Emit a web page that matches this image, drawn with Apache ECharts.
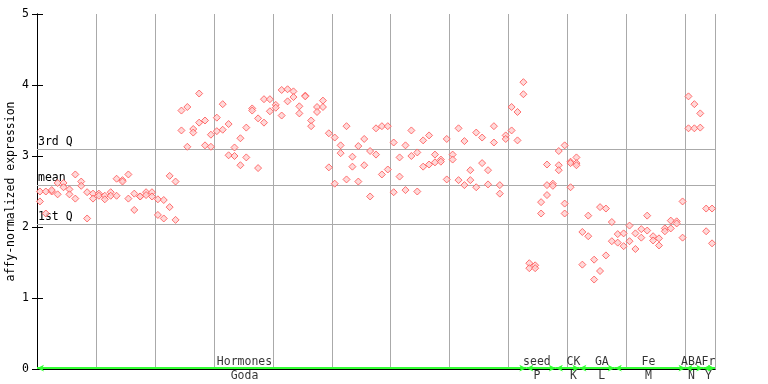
<!DOCTYPE html>
<html>
<head>
<meta charset="utf-8">
<script src="https://cdn.jsdelivr.net/npm/echarts@6/dist/echarts.min.js"></script>
<style>
html,body{margin:0;padding:0;background:#fff;}
#c{width:768px;height:384px;}
</style>
</head>
<body>
<div id="c"></div>
<script>
// expression values per sample (replicates)
const sampleValues = [
  [2.50,2.36],[2.50,2.19],[2.50,2.52],[2.62,2.46],[2.62,2.56],[2.53,2.46],[2.74,2.40],[2.64,2.58],[2.49,2.12],[2.47,2.40],
  [2.47,2.44],[2.44,2.39],[2.49,2.44],[2.68,2.44],[2.66,2.64],[2.74,2.40],[2.47,2.24],[2.43,2.43],[2.49,2.45],[2.49,2.43],
  [2.39,2.17],[2.38,2.12],[2.72,2.28],[2.64,2.10],[3.64,3.36],[3.69,3.13],[3.38,3.33],[3.88,3.47],[3.50,3.15],[3.30,3.13],
  [3.54,3.35],[3.73,3.37],[3.45,3.01],[3.12,3.00],[3.25,2.87],[3.40,2.98],[3.67,3.64],[3.53,2.83],[3.80,3.47],[3.80,3.63],
  [3.72,3.68],[3.93,3.57],[3.94,3.77],[3.91,3.83],[3.70,3.60],[3.85,3.84],[3.50,3.42],[3.69,3.62],[3.78,3.69],[3.32,2.84],
  [3.26,2.61],[3.15,3.04],[3.42,2.67],[2.99,2.85],[3.14,2.64],[3.24,2.87],[3.07,2.43],[3.39,3.02],[3.42,2.74],[3.42,2.81],
  [3.19,2.49],[2.98,2.71],[3.15,2.52],[3.36,3.00],[3.05,2.50],[3.22,2.85],[3.29,2.88],[3.02,2.91],[2.95,2.92],[3.24,2.67],
  [3.02,2.95],[3.39,2.66],[3.21,2.59],[2.80,2.66],[3.33,2.56],[3.26,2.90],[2.80,2.60],[3.42,3.19],[2.59,2.47],[3.29,3.24],
  [3.69,3.36],[3.62,3.22],[4.04,3.87],[1.49,1.42],[1.46,1.42],[2.35,2.19],[2.88,2.59,2.45],[2.61,2.58],[3.07,2.87,2.80],[3.15,2.33,2.19],
  [2.92,2.90,2.56],[2.98,2.90,2.87],[1.93,1.47],[2.16,1.87],[1.54,1.26],[2.28,1.38],[2.26,1.60],[2.07,1.80],[1.90,1.78],[1.91,1.73],
  [2.02,1.80],[1.91,1.69],[1.97,1.85],[2.16,1.95],[1.87,1.81],[1.84,1.74],[1.98,1.94],[2.09,1.98],[2.08,2.05],[2.36,1.85],
  [3.84,3.39],[3.73,3.39],[3.60,3.40],[2.26,1.94],[2.26,1.77]
];
const sampleCount = 115;
// reference statistics
const statValues = [3.10, 2.59, 2.04];
const statLabels = ['3rd Q', 'mean', '1st Q'];
// experiment groups
const groupNames = ['Hormones', 'seed', 'CK', 'GA', 'Fe', 'ABA', 'Fr'];
const groupCodes = ['Goda', 'P', 'K', 'L', 'M', 'N', 'Y'];
const groupStart = [0, 83, 88, 92, 98, 110, 113];
const groupEnd = [83, 88, 92, 98, 110, 113, 115];
const groupLabelPos = [35.2, 84.8, 91.0, 95.8, 103.7, 111.0, 113.9];
const yTicks = [0, 1, 2, 3, 4, 5];

const FONT = '"DejaVu Sans Mono", monospace';
const pts = [];
sampleValues.forEach((vals, i) => vals.forEach(v => pts.push([i + 0.5, v])));

const chart = echarts.init(document.getElementById('c'), null, {renderer: 'canvas'});
chart.setOption({
  backgroundColor: '#fff',
  animation: false,
  grid: {left: 37, right: 53, top: 14, bottom: 15, containLabel: false, outerBoundsMode: 'none'},
  xAxis: [{
    type: 'value', min: 0, max: sampleCount, interval: 10,
    axisLine: {show: true, lineStyle: {color: '#000', width: 1}},
    axisTick: {show: false}, axisLabel: {show: false},
    splitLine: {show: true, lineStyle: {color: '#aaa', width: 1}}
  }, {
    type: 'value', min: 0, max: sampleCount, position: 'top',
    axisLine: {show: true, lineStyle: {color: '#000', width: 1}},
    axisTick: {show: false}, axisLabel: {show: false}, splitLine: {show: false}
  }],
  yAxis: [{
    type: 'value', min: yTicks[0], max: yTicks[yTicks.length - 1], interval: 1,
    name: 'affy-normalized expression', nameLocation: 'middle', nameGap: 20, nameRotate: 90,
    nameMoveOverlap: false,
    nameTextStyle: {fontFamily: FONT, fontSize: 11.5, color: '#000'},
    axisLine: {show: true, lineStyle: {color: '#000', width: 1}},
    axisTick: {show: true, inside: true, length: 6, lineStyle: {color: '#000'}},
    axisLabel: {show: true, margin: 8, fontFamily: FONT, fontSize: 11.5, color: '#000'},
    splitLine: {show: false}
  }, {
    type: 'value', min: yTicks[0], max: yTicks[yTicks.length - 1], interval: 1, position: 'right',
    axisLine: {show: true, lineStyle: {color: '#000', width: 1}},
    axisTick: {show: true, inside: true, length: 5, lineStyle: {color: '#000'}},
    axisLabel: {show: false}, splitLine: {show: false}
  }],
  series: [{
    type: 'scatter',
    data: pts,
    symbol: 'diamond', symbolSize: 7,
    itemStyle: {color: '#ffd0d0', borderColor: '#ff5050', borderWidth: 1},
    z: 5,
    markLine: {
      silent: true, symbol: 'none',
      lineStyle: {color: '#aaa', width: 1, type: 'solid'},
      label: {show: true, position: 'insideStartTop', distance: [1, 1],
        fontFamily: FONT, fontSize: 11.5, color: '#000',
        formatter: p => statLabels[p.dataIndex]},
      data: statValues.map(v => ({yAxis: v}))
    }
  }, {
    type: 'scatter', data: [], silent: true,
    markLine: {
      silent: true, symbol: ['arrow', 'arrow'], symbolSize: [5, 7],
      lineStyle: {color: '#33ff33', width: 2, type: 'solid'},
      label: {show: false},
      data: groupStart.map((s, k) => [{coord: [s, 0.012]}, {coord: [groupEnd[k], 0.012]}])
    },
    z: 4
  }, {
    type: 'scatter', silent: true, clip: false, symbolSize: 0,
    data: groupLabelPos.map((x, k) => ({value: [x, 0], name: groupNames[k]})),
    label: {show: true, position: 'top', distance: 1, formatter: p => p.name,
      fontFamily: FONT, fontSize: 11.5, color: '#000'},
    z: 6
  }, {
    type: 'scatter', silent: true, clip: false, symbolSize: 0,
    data: groupLabelPos.map((x, k) => ({value: [x, 0], name: groupCodes[k]})),
    label: {show: true, position: 'bottom', distance: 1, formatter: p => p.name,
      fontFamily: FONT, fontSize: 11.5, color: '#000'},
    z: 6
  }]
});
</script>
</body>
</html>
